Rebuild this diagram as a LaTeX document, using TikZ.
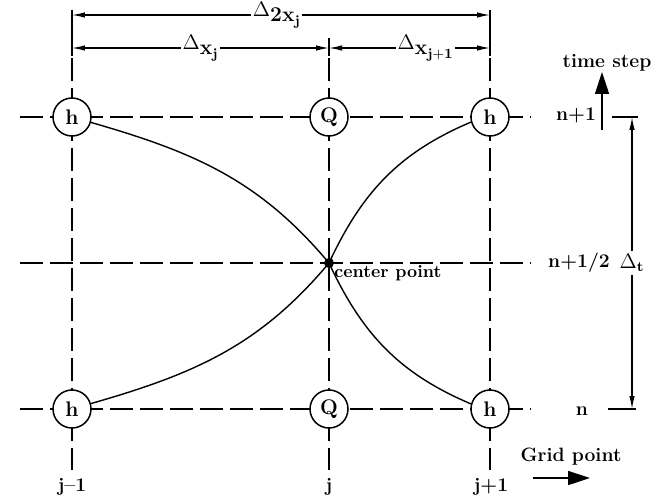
\documentclass[tikz,border=0pt]{standalone}
\usetikzlibrary{arrows.meta}

\begin{document}
\begin{tikzpicture}[
    x=0.02cm, y=-0.02cm,
    gridnode/.style={draw, circle, fill=white, line width=0.85pt, minimum size=0.76cm, inner sep=0pt, font=\large\bfseries},
    gridline/.style={line width=0.7pt, dash pattern=on 0.46cm off 0.14cm},
    extline/.style={line width=0.8pt},
    curve/.style={line width=0.8pt},
    dimline/.style={{Latex[length=2.6mm,width=1.1mm]}-{Latex[length=2.6mm,width=1.1mm]}, line width=0.7pt},
    bigarrow/.style={-{Triangle[length=4.4mm,width=2.8mm]}, line width=0.9pt},
    lbl/.style={font=\fontsize{11}{13}\selectfont\bfseries},
    dimlbl/.style={fill=white, inner sep=1pt, font=\large},
]
\useasboundingbox (0,0) rectangle (651,500);

% Grid lines
\draw[gridline] (20,117) -- (530,117);
\draw[gridline] (20,263) -- (530,263);
\draw[gridline] (20,409) -- (530,409);
\draw[gridline] (72,58) -- (72,470);
\draw[gridline] (329,58) -- (329,470);
\draw[gridline] (490,58) -- (490,470);

% Extension lines
\draw[extline] (72,10) -- (72,56);
\draw[extline] (329,38) -- (329,56);
\draw[extline] (490,10) -- (490,56);

% Grid nodes
\node[gridnode] (hnw) at (72,117) {h};
\node[gridnode] (qn) at (329,117) {Q};
\node[gridnode] (hne) at (490,117) {h};
\node[gridnode] (hsw) at (72,409) {h};
\node[gridnode] (qs) at (329,409) {Q};
\node[gridnode] (hse) at (490,409) {h};

% Center point
\node[circle, fill, inner sep=0pt, minimum size=0.2cm] (cp) at (329,263) {};
\node[font=\bfseries, anchor=west, inner sep=0pt] (cplbl) at (334,273) {center point};

% Curves
\draw[curve] (hnw.-16) to[out=-16, in=130] (cp.center);
\draw[curve] (cp.center) to[out=65, in=-157] (hne.-165);
\draw[curve] (hsw.16) to[out=16, in=-130] (cp.center);
\draw[curve] (cp.center) to[out=-65, in=157] (hse.165);

% Dimensions along x
\draw[dimline] (72,15) -- node[dimlbl, pos=0.49] {$\Delta$\raisebox{-0.6ex}{\textbf{2x}$_{\mathbf{j}}$}} (490,15);
\draw[dimline] (72,48) -- node[dimlbl] {$\Delta$\raisebox{-0.6ex}{\textbf{x}$_{\mathbf{j}}$}} (329,48);
\draw[dimline] (329,48) -- node[dimlbl, pos=0.6] {$\Delta$\raisebox{-0.6ex}{\textbf{x}$_{\mathbf{j+1}}$}} (490,48);

% Dimension along t
\coordinate (ttop) at (632,117);
\coordinate (tbot) at (632,409);
\draw[extline] (612,117) -- (638,117);
\draw[extline] (608,409) -- (636,409);
\draw[dimline] (ttop) -- node[fill=white, inner xsep=0pt, inner ysep=2pt, font=\large] {$\Delta_{\mathbf{t}}$} (tbot);

% Time levels
\node[lbl] (lvtop) at (576,115) {n+1};
\node[lbl] (lvmid) at (579,263) {n+1/2};
\node[lbl] (lvbot) at (582,411) {n};

% Grid points
\node[lbl] (jm) at (72,487) {j\textendash1};
\node[lbl] (j0) at (329,487) {j};
\node[lbl] (jp) at (491,487) {j+1};

% Axis arrows
\coordinate (tsa) at (602,130);
\coordinate (tsb) at (602,72);
\draw[bigarrow] (tsa) -- (tsb);
\node[lbl] (tslbl) at (607,63) {time\ step};
\coordinate (gpa) at (533,478);
\coordinate (gpb) at (590,478);
\draw[bigarrow] (gpa) -- (gpb);
\node[lbl] (gplbl) at (571,457) {Grid\ point};
\end{tikzpicture}
\end{document}
